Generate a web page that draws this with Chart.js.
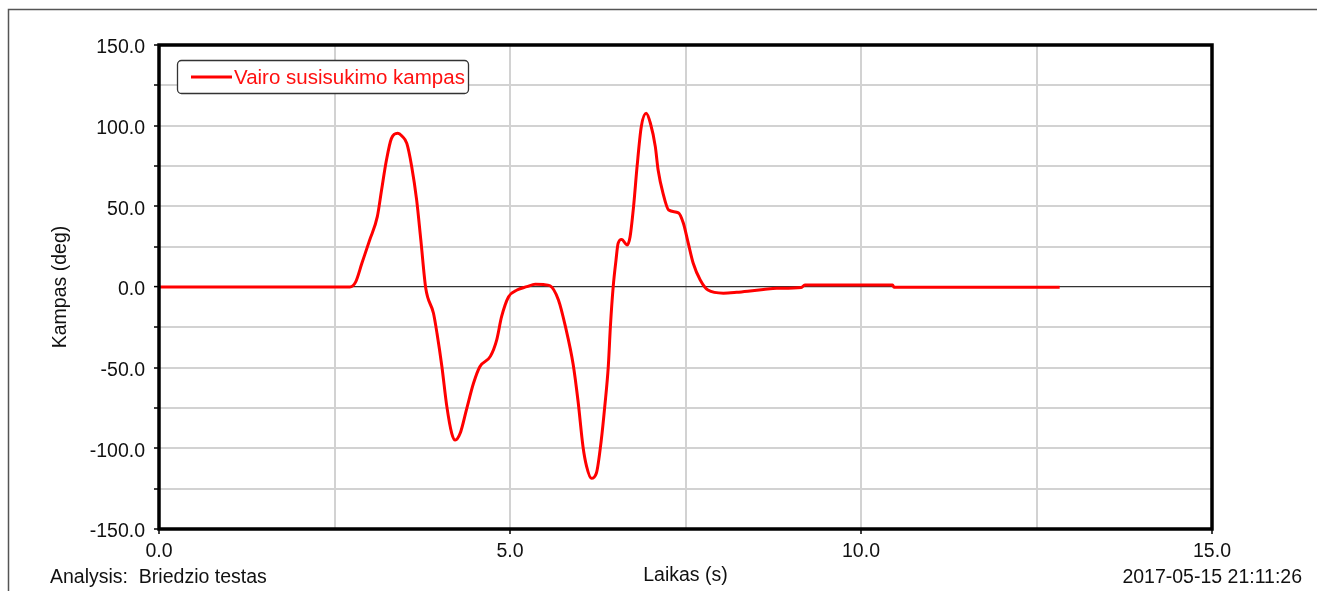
<!DOCTYPE html>
<html>
<head>
<meta charset="utf-8">
<script src="https://cdn.jsdelivr.net/npm/chart.js@4.4.0/dist/chart.umd.min.js"></script>
<style>
  html, body { margin: 0; padding: 0; background: #fff; }
  #wrap { width: 1317px; height: 591px; }
</style>
</head>
<body>
<div id="wrap"><canvas id="steerChart" width="1317" height="591"></canvas></div>
<script>
// laikas (s)
const times = [0, 2.72, 2.80, 2.89, 3.00, 3.11, 3.17, 3.24, 3.31, 3.40, 3.46, 3.53, 3.60, 3.67, 3.73,
  3.80, 3.91, 3.96, 4.03, 4.10, 4.17, 4.22, 4.29, 4.38, 4.48, 4.57, 4.72, 4.81, 4.88, 4.98,
  5.10, 5.24, 5.36, 5.48, 5.57, 5.69, 5.79, 5.90, 5.97, 6.04, 6.09, 6.16, 6.23, 6.30, 6.35,
  6.40, 6.43, 6.47, 6.51, 6.54, 6.59, 6.67, 6.71, 6.76, 6.81, 6.87, 6.94, 7.00, 7.07, 7.11,
  7.18, 7.26, 7.40, 7.47, 7.54, 7.61, 7.71, 7.82, 8.04, 8.23, 8.42, 8.61, 8.80, 9.15, 9.20,
  10.45, 10.47, 12.83];
// vairo susisukimo kampas (deg)
const angles = [0, 0, 3, 14.7, 29, 43.6, 60, 78.7, 92, 95.3, 93.6, 89, 74.6, 54, 29,
  -0.8, -16.3, -28.7, -49.4, -74, -90.7, -94.9, -90.7, -76, -59.7, -49.4, -43, -32.9, -18.4, -6,
  -1.9, 0.2, 1.7, 1.5, 0.8, -8, -24.6, -48, -71, -99, -111, -118.6, -115.5, -95, -74,
  -49.4, -24.6, 0.2, 16.7, 27, 29.5, 26, 31, 49.8, 74.6, 99.4, 107.7, 101.5, 87, 72.5,
  58, 47.7, 46, 39.5, 27, 14.7, 4.3, -1.9, -3.8, -3.3, -2.5, -1.6, -0.8, -0.3, 1.2,
  1.2, -0.2, -0.2];
const xTicks = [0, 5, 10, 15];
const yTicks = [-150, -100, -50, 0, 50, 100, 150];

const seriesLabel = "Vairo susisukimo kampas";
const FONT = "Arial, 'Liberation Sans', sans-serif";
const FS = 19.5;

const points = times.map((t, i) => ({ x: t, y: angles[i] }));

// rėmeliai, legenda, apačios tekstai
const decor = {
  id: "decor",
  beforeDraw(chart) {
    const c = chart.ctx;
    c.save();
    c.strokeStyle = "#555";
    c.lineWidth = 1.5;
    c.beginPath();
    c.moveTo(8.5, 600);
    c.lineTo(8.5, 9.5);
    c.lineTo(1317, 9.5);
    c.stroke();
    c.restore();
  },
  afterDraw(chart) {
    const c = chart.ctx;
    const a = chart.chartArea;
    c.save();
    // storas grafiko rėmas
    c.strokeStyle = "#000";
    c.lineWidth = 3.5;
    c.strokeRect(a.left, a.top, a.right - a.left, a.bottom - a.top);

    // legenda
    c.beginPath();
    c.roundRect(177.5, 60.5, 291, 33, 4);
    c.fillStyle = "#fff";
    c.fill();
    c.lineWidth = 1.3;
    c.strokeStyle = "#333";
    c.stroke();
    c.beginPath();
    c.moveTo(191, 77);
    c.lineTo(232, 77);
    c.strokeStyle = "#ff0000";
    c.lineWidth = 3;
    c.stroke();
    c.fillStyle = "#ff1010";
    c.font = "20.5px " + FONT;
    c.textBaseline = "middle";
    c.textAlign = "left";
    c.fillText(chart.data.datasets[0].label, 234, 78);

    // apačia
    c.fillStyle = "#111";
    c.font = FS + "px " + FONT;
    c.fillText("Analysis:  Briedzio testas", 50, 578);
    c.textAlign = "right";
    c.fillText("2017-05-15 21:11:26", 1302, 578);
    c.restore();
  }
};

new Chart(document.getElementById("steerChart").getContext("2d"), {
  type: "line",
  data: {
    datasets: [{
      label: seriesLabel,
      data: points,
      borderColor: "#ff0000",
      borderWidth: 3,
      pointRadius: 0,
      cubicInterpolationMode: "monotone",
      fill: false
    }]
  },
  options: {
    responsive: false,
    animation: false,
    events: [],
    layout: { padding: { left: 0, top: 45, right: 105, bottom: 0 } },
    plugins: {
      legend: { display: false },
      tooltip: { enabled: false }
    },
    scales: {
      x: {
        type: "linear",
        min: 0,
        max: 15,
        afterFit: (s) => { s.height = 62; },
        afterBuildTicks: (s) => {
          s.ticks = [];
          for (let v = 0; v <= 15; v += 2.5) s.ticks.push({ value: v });
        },
        border: { display: false },
        grid: {
          color: "#d2d2d2",
          lineWidth: 2,
          tickLength: 5,
          tickWidth: 1.5,
          tickColor: (ctx) => xTicks.includes(ctx.tick.value) ? "#000" : "rgba(0,0,0,0)"
        },
        ticks: {
          padding: 6,
          maxRotation: 0,
          autoSkip: false,
          color: "#111",
          font: { family: FONT, size: FS },
          callback: (v) => xTicks.includes(v) ? v.toFixed(1) : ""
        },
        title: {
          display: true,
          text: "Laikas (s)",
          color: "#111",
          font: { family: FONT, size: FS },
          padding: { top: 4, bottom: 4 }
        }
      },
      y: {
        type: "linear",
        min: -150,
        max: 150,
        afterFit: (s) => { s.width = 159; },
        afterBuildTicks: (s) => {
          s.ticks = [];
          for (let v = -150; v <= 150; v += 25) s.ticks.push({ value: v });
        },
        border: { display: false },
        grid: {
          color: (ctx) => ctx.tick.value === 0 ? "#333" : "#d2d2d2",
          lineWidth: (ctx) => ctx.tick.value === 0 ? 1.2 : 2,
          tickLength: 5,
          tickWidth: 1.5,
          tickColor: "#000"
        },
        ticks: {
          padding: 9,
          labelOffset: 3,
          autoSkip: false,
          color: "#111",
          font: { family: FONT, size: FS },
          callback: (v) => yTicks.includes(v) ? v.toFixed(1) : ""
        },
        title: {
          display: true,
          text: "Kampas (deg)",
          color: "#111",
          font: { family: FONT, size: FS },
          padding: { top: 49, bottom: 4 }
        }
      }
    }
  },
  plugins: [decor]
});
</script>
</body>
</html>
